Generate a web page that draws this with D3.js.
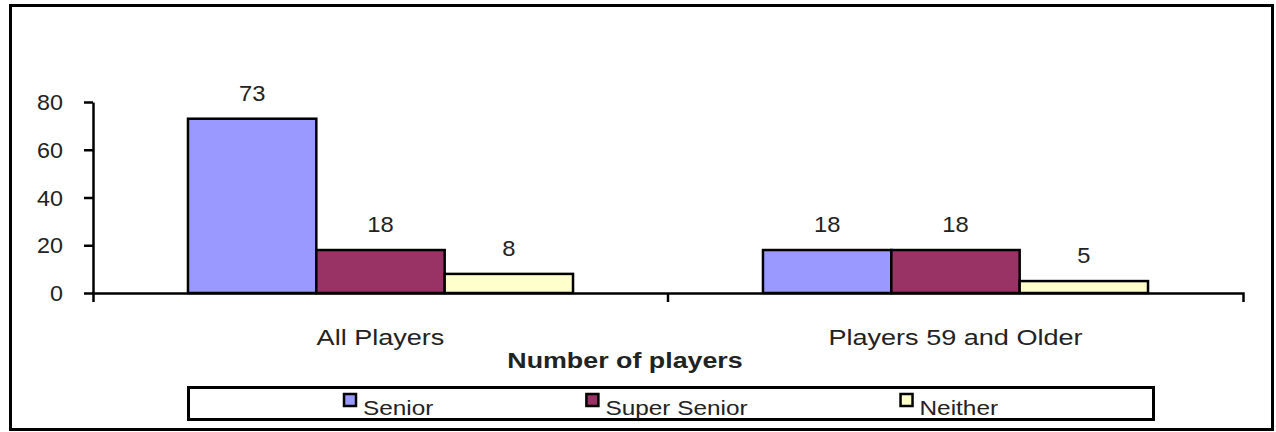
<html>
<head>
<script src="https://d3js.org/d3.v7.min.js"></script>
<style>
body { margin: 0; background: white; }
text { font-family: "Liberation Sans", Arial, sans-serif; fill: #222; }
</style>
</head>
<body>
<div id="chart"></div>
<script>
// data
var categories = ["All Players", "Players 59 and Older"];
var series = ["Senior", "Super Senior", "Neither"];
var senior = [73, 18];
var superSenior = [18, 18];
var neither = [8, 5];
var yTicks = [0, 20, 40, 60, 80];
var xTitle = "Number of players";

var colors = ["#9999FF", "#993366", "#FFFFCC"];
var values = [senior, superSenior, neither];

var W = 1276, H = 432;
var svg = d3.select("#chart").append("svg")
    .attr("width", W)
    .attr("height", H);

// outer frame
svg.append("rect")
    .attr("x", 10.5).attr("y", 5.5)
    .attr("width", 1262).attr("height", 424)
    .style("fill", "white")
    .style("stroke", "black")
    .style("stroke-width", 3);

var x0 = d3.scaleBand()
    .domain(categories)
    .range([93, 1243])
    .padding(0);

var x1 = d3.scaleBand()
    .domain(series)
    .range([0, x0.bandwidth()])
    .paddingInner(0)
    .paddingOuter(0.74);

var y = d3.scaleLinear()
    .domain([0, 80])
    .range([293, 102]);

// helper for stretched text like the original
function stretchText(g, x, yy, str, size, sx, anchor, weight) {
  return g.append("text")
    .attr("transform", "translate(" + x + "," + yy + ") scale(" + sx + ",1)")
    .attr("text-anchor", anchor)
    .style("font-size", size + "px")
    .style("font-weight", weight || "normal")
    .text(str);
}

// bars
var rows = [];
categories.forEach(function(c, i) {
  series.forEach(function(s, j) {
    rows.push({cat: c, ser: s, val: values[j][i], color: colors[j]});
  });
});

svg.append("g")
  .selectAll("rect")
  .data(rows)
  .enter()
  .append("rect")
    .attr("x", function(d) { return x0(d.cat) + x1(d.ser); })
    .attr("y", function(d) { return y(d.val); })
    .attr("width", x1.bandwidth())
    .attr("height", function(d) { return y(0) - y(d.val); })
    .style("fill", function(d) { return d.color; })
    .style("stroke", "black")
    .style("stroke-width", 2.5);

// value labels
var labels = svg.append("g");
rows.forEach(function(d) {
  stretchText(labels, x0(d.cat) + x1(d.ser) + x1.bandwidth() / 2, y(d.val) - 18,
              d.val, 22, 1.08, "middle");
});

// y axis
var yAxis = svg.append("g")
    .attr("transform", "translate(93,0)")
    .call(d3.axisLeft(y).tickValues(yTicks).tickSize(9).tickSizeOuter(0).tickFormat(""));
yAxis.selectAll("path, line").style("stroke", "black").style("stroke-width", 2.5);
yTicks.forEach(function(t) {
  stretchText(svg, 63, y(t) + 8, t, 22, 1.06, "end");
});

// x axis
var xAxis = svg.append("g")
    .attr("transform", "translate(0," + y(0) + ")")
    .call(d3.axisBottom(x0).tickSizeInner(0).tickSizeOuter(9).tickFormat(""));
xAxis.selectAll("path, line").style("stroke", "black").style("stroke-width", 2.5);
// boundary tick between the groups
categories.slice(1).forEach(function(c) {
  xAxis.append("line")
    .attr("x1", x0(c)).attr("x2", x0(c))
    .attr("y1", 0).attr("y2", 9)
    .style("stroke", "black").style("stroke-width", 2.5);
});

// category labels
categories.forEach(function(c) {
  stretchText(svg, x0(c) + x0.bandwidth() / 2, 345, c, 22, 1.23, "middle");
});

// axis title
stretchText(svg, 625, 368, xTitle, 22, 1.22, "middle", "bold");

// legend
svg.append("rect")
    .attr("x", 188.5).attr("y", 387.5)
    .attr("width", 965).attr("height", 32)
    .style("fill", "white")
    .style("stroke", "black")
    .style("stroke-width", 3);

var lx = 343;
series.forEach(function(s, j) {
  svg.append("rect")
    .attr("x", lx + 1).attr("y", 394)
    .attr("width", 12).attr("height", 12)
    .style("fill", colors[j])
    .style("stroke", "black")
    .style("stroke-width", 2.5);
  var t = stretchText(svg, lx + 20, 415, s, 21, 1.16, "start");
  var w = t.node().getComputedTextLength() * 1.16;
  lx = lx + 20 + w + 152;
});
</script>
</body>
</html>
